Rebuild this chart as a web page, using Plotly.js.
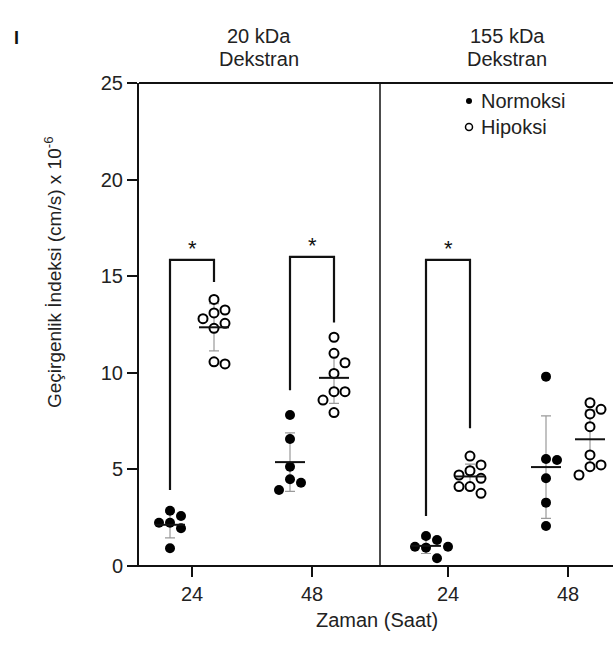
<!DOCTYPE html>
<html>
<head>
<meta charset="utf-8">
<script src="https://cdn.plot.ly/plotly-3.0.1.min.js"></script>
<style>html,body{margin:0;padding:0;background:#fff;}#chart{width:613px;height:648px;}</style>
</head>
<body>
<div id="chart"></div>
<script>
// ---------------- DATA ----------------
const timeLabels = ['24', '48'];
const panelTitles = ['20 kDa', '155 kDa'];
const panelSubtitle = 'Dekstran';
const seriesNames = ['Normoksi', 'Hipoksi'];

// 20 kDa Dekstran
const normoksi20_24 = [2.86, 2.59, 2.24, 2.24, 1.95, 0.92];
const hipoksi20_24  = [13.8, 13.25, 13.1, 12.8, 12.56, 12.3, 10.57, 10.46];
const normoksi20_48 = [7.82, 6.57, 5.14, 4.49, 4.31, 3.93];
const hipoksi20_48  = [11.84, 11.01, 10.52, 9.97, 9.02, 9.02, 8.59, 7.94];
// 155 kDa Dekstran
const normoksi155_24 = [1.55, 1.35, 1.0, 1.0, 0.95, 0.4];
const hipoksi155_24  = [5.69, 5.23, 4.93, 4.71, 4.54, 4.11, 4.11, 3.76];
const normoksi155_48 = [9.8, 5.54, 5.49, 4.54, 3.28, 2.07];
const hipoksi155_48  = [8.45, 8.11, 7.87, 7.21, 5.75, 5.23, 5.14, 4.71];

// significance brackets (group index into tick positions below)
const bracketGroup    = [0, 1, 2];
const bracketTop      = [15.85, 16.0, 15.85];
const bracketLeftEnd  = [3.93, 9.1, 2.59];
const bracketRightEnd = [14.7, 12.6, 7.13];
const bracketLabel    = ['*', '*', '*'];

// ---------------- LAYOUT CONSTANTS ----------------
const W = 613, H = 648;
const M = {l: 139, r: 0, t: 83, b: 82};
const plotW = W - M.l - M.r, plotH = H - M.t - M.b;
const xMin = 139, xMax = 613;           // x axis in layout pixel units
const tickPos = [192, 312, 448, 568];   // 20kDa-24, 20kDa-48, 155kDa-24, 155kDa-48
const dividerX = 380;
const condOffset = 22;
const yMax = 25;
const pxPerUnit = plotH / yMax;
const markerD = 11, swarmStep = 11;
const FONT = '"Liberation Sans", Arial, Helvetica, sans-serif';
const TXT = '#222';

const groups = [
  [normoksi20_24, hipoksi20_24],
  [normoksi20_48, hipoksi20_48],
  [normoksi155_24, hipoksi155_24],
  [normoksi155_48, hipoksi155_48]
];

function swarm(vals, center) {
  const idx = vals.map((v, i) => i).sort((a, b) => vals[b] - vals[a]);
  const placed = [];
  const xs = new Array(vals.length);
  idx.forEach(i => {
    const v = vals[i];
    const cands = [0];
    for (let k = 1; k < 6; k++) { cands.push(k * swarmStep, -k * swarmStep); }
    for (const off of cands) {
      const ok = placed.every(p => {
        const dx = off - p.off, dy = (v - p.v) * pxPerUnit;
        return dx * dx + dy * dy >= markerD * markerD - 0.5;
      });
      if (ok) { placed.push({off, v}); xs[i] = center + off; break; }
    }
  });
  return xs;
}
const mean = a => a.reduce((s, v) => s + v, 0) / a.length;
const sd = a => { const m = mean(a); return Math.sqrt(a.reduce((s, v) => s + (v - m) ** 2, 0) / (a.length - 1)); };

const traces = [];
const meanX = [], meanY = [];
const errX = [], errY = [], errA = [];
groups.forEach((g, gi) => {
  g.forEach((vals, ci) => {
    const c = tickPos[gi] + (ci === 0 ? -condOffset : condOffset);
    errX.push(c); errY.push(mean(vals)); errA.push(sd(vals));
    meanX.push(c - 15, c + 15, null); meanY.push(mean(vals), mean(vals), null);
  });
});
traces.push({
  type: 'scatter', mode: 'markers', x: errX, y: errY, showlegend: false, hoverinfo: 'skip',
  marker: {size: 1, color: 'rgba(0,0,0,0)'},
  error_y: {type: 'data', array: errA, visible: true, color: '#9a9a9a', thickness: 1.2, width: 5}
});
groups.forEach((g, gi) => {
  g.forEach((vals, ci) => {
    const c = tickPos[gi] + (ci === 0 ? -condOffset : condOffset);
    traces.push({
      type: 'scatter', mode: 'markers', name: seriesNames[ci],
      x: swarm(vals, c), y: vals, showlegend: false, cliponaxis: false,
      marker: ci === 0
        ? {symbol: 'circle', size: 10, color: '#000', line: {width: 0}}
        : {symbol: 'circle', size: 9, color: '#fff', line: {width: 2, color: '#000'}}
    });
  });
});
traces.push({
  type: 'scatter', mode: 'lines', x: meanX, y: meanY, showlegend: false, hoverinfo: 'skip',
  line: {color: '#111', width: 2}
});
// brackets
bracketGroup.forEach((gi, k) => {
  const l = tickPos[gi] - condOffset, r = tickPos[gi] + condOffset;
  traces.push({
    type: 'scatter', mode: 'lines', showlegend: false, hoverinfo: 'skip', cliponaxis: false,
    x: [l, l, r, r], y: [bracketLeftEnd[k], bracketTop[k], bracketTop[k], bracketRightEnd[k]],
    line: {color: '#111', width: 2.2}
  });
});

const px2paperX = px => (px - M.l) / plotW;
const px2paperY = py => (H - M.b - py) / plotH;

const annotations = [];
bracketGroup.forEach((gi, k) => {
  annotations.push({xref: 'x', yref: 'y', x: tickPos[gi], y: bracketTop[k] + 0.6, text: bracketLabel[k],
    showarrow: false, yanchor: 'middle', font: {family: FONT, size: 22, color: '#111'}});
});
panelTitles.forEach((t, i) => {
  const cx = px2paperX(i === 0 ? 259 : 507);
  annotations.push({xref: 'paper', yref: 'paper', x: cx, y: px2paperY(36),
    text: t, showarrow: false, xanchor: 'center', yanchor: 'middle',
    font: {family: FONT, size: 20, color: TXT}});
  annotations.push({xref: 'paper', yref: 'paper', x: cx, y: px2paperY(59),
    text: panelSubtitle, showarrow: false, xanchor: 'center', yanchor: 'middle',
    font: {family: FONT, size: 20, color: TXT}});
});
annotations.push({xref: 'paper', yref: 'paper', x: px2paperX(53), y: px2paperY(272),
  text: 'Geçirgenlik İndeksi (cm/s) x 10<sup>-6</sup>', textangle: -90, showarrow: false,
  xanchor: 'center', yanchor: 'middle', font: {family: FONT, size: 19, color: TXT}});
annotations.push({xref: 'paper', yref: 'paper', x: px2paperX(377), y: px2paperY(620),
  text: 'Zaman (Saat)', showarrow: false, xanchor: 'center', yanchor: 'middle',
  font: {family: FONT, size: 20, color: TXT}});
annotations.push({xref: 'paper', yref: 'paper', x: px2paperX(17), y: px2paperY(38), text: '<b>I</b>',
  showarrow: false, xanchor: 'center', yanchor: 'middle', font: {family: FONT, size: 18, color: '#111'}});
// legend text
seriesNames.forEach((n, i) => {
  annotations.push({xref: 'paper', yref: 'paper', x: px2paperX(479), y: px2paperY(i === 0 ? 101 : 127),
    text: n, showarrow: false, xanchor: 'left', yanchor: 'middle', font: {family: FONT, size: 20, color: TXT}});
});

const shapes = [
  // x baseline extending left of y axis
  {type: 'line', xref: 'paper', yref: 'paper', x0: px2paperX(127), x1: 1, y0: 0, y1: 0, line: {color: '#111', width: 2}},
  // top frame
  {type: 'line', xref: 'paper', yref: 'paper', x0: 0, x1: 1, y0: 1, y1: 1, line: {color: '#111', width: 2}},
  // divider between panels
  {type: 'line', xref: 'x', yref: 'paper', x0: dividerX, x1: dividerX, y0: 0, y1: 1, line: {color: '#111', width: 1.5}},
  // legend symbols
  {type: 'circle', xref: 'paper', yref: 'paper', xsizemode: 'pixel', ysizemode: 'pixel',
    xanchor: px2paperX(469), yanchor: px2paperY(101), x0: -3, x1: 3, y0: -3, y1: 3,
    fillcolor: '#000', line: {color: '#000', width: 0}},
  {type: 'circle', xref: 'paper', yref: 'paper', xsizemode: 'pixel', ysizemode: 'pixel',
    xanchor: px2paperX(469), yanchor: px2paperY(127), x0: -3.5, x1: 3.5, y0: -3.5, y1: 3.5,
    fillcolor: '#fff', line: {color: '#000', width: 1.5}}
];

const layout = {
  width: W, height: H, margin: M,
  paper_bgcolor: '#fff', plot_bgcolor: '#fff',
  showlegend: false,
  font: {family: FONT, color: TXT, size: 20},
  xaxis: {
    range: [xMin, xMax], tickvals: tickPos, ticktext: [timeLabels[0], timeLabels[1], timeLabels[0], timeLabels[1]],
    showgrid: false, zeroline: false, showline: false,
    ticks: 'outside', ticklen: 10, tickwidth: 2, tickcolor: '#111',
    tickfont: {family: FONT, size: 20, color: TXT}
  },
  yaxis: {
    range: [0, yMax], tickvals: [0, 5, 10, 15, 20, 25],
    showgrid: false, zeroline: false, showline: true, linecolor: '#111', linewidth: 2,
    ticks: 'outside', ticklen: 10, tickwidth: 2, tickcolor: '#111',
    tickfont: {family: FONT, size: 20, color: TXT}
  },
  annotations, shapes
};

Plotly.newPlot('chart', traces, layout, {displayModeBar: false, staticPlot: true});
</script>
</body>
</html>
